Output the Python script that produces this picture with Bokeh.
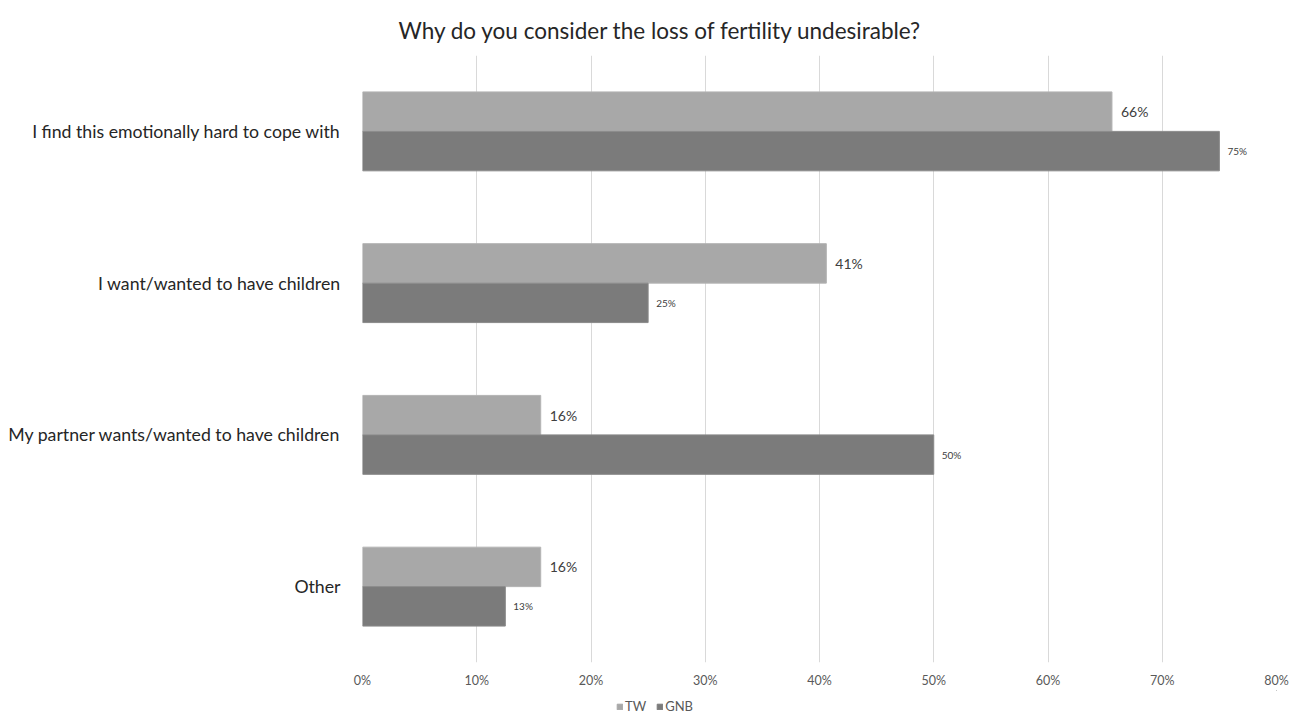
from bokeh.plotting import figure
from bokeh.layouts import column
from bokeh.models import ColumnDataSource, FactorRange, Range1d, FixedTicker, Title, Legend, LegendItem
from bokeh.transform import dodge
from bokeh.core.properties import value
from bokeh.embed import file_html
from bokeh.resources import INLINE

categories = ["I find this emotionally hard to cope with",
              "I want/wanted to have children",
              "My partner wants/wanted to have children",
              "Other"]
tw_values = [65.6, 40.6, 15.6, 15.6]
gnb_values = [75.0, 25.0, 50.0, 12.5]
tw_labels = ["66%", "41%", "16%", "16%"]
gnb_labels = ["75%", "25%", "50%", "13%"]
series_names = ["TW", "GNB"]
x_ticks = [0, 10, 20, 30, 40, 50, 60, 70, 80]
x_tick_labels = ["0%", "10%", "20%", "30%", "40%", "50%", "60%", "70%", "80%"]
title_text = "Why do you consider the loss of fertility undesirable?"

FONT = "Lato"
TW_COLOR = "#a8a8a8"
GNB_COLOR = "#7b7b7b"

src = ColumnDataSource(dict(cat=categories, tw=tw_values, gnb=gnb_values,
                            tw_lbl=tw_labels, gnb_lbl=gnb_labels))

p = figure(width=1290, height=690, output_backend="svg", toolbar_location=None,
           y_range=FactorRange(factors=list(reversed(categories)), range_padding=0, factor_padding=0),
           x_range=Range1d(0, 80),
           min_border_left=362, min_border_right=14, min_border_top=55, min_border_bottom=28)
p.outline_line_color = None
p.background_fill_color = "white"
p.border_fill_color = "white"

p.hbar(y=dodge("cat", 0.13, range=p.y_range), right="tw", left=0, height=0.26,
       fill_color=TW_COLOR, line_color="#b4b4b4", line_width=1, source=src)
p.hbar(y=dodge("cat", -0.13, range=p.y_range), right="gnb", left=0, height=0.26,
       fill_color=GNB_COLOR, line_color="#8a8a8a", line_width=1, source=src)

p.text(x="tw", y=dodge("cat", 0.13, range=p.y_range), text="tw_lbl", source=src,
       x_offset=9, text_baseline="middle", text_align="left", text_font=value(FONT),
       text_font_size="14px", text_color="#404040")
p.text(x="gnb", y=dodge("cat", -0.13, range=p.y_range), text="gnb_lbl", source=src,
       x_offset=8, text_baseline="middle", text_align="left", text_font=value(FONT),
       text_font_size="10px", text_color="#404040")

p.xaxis.ticker = FixedTicker(ticks=x_ticks)
p.xaxis.major_label_overrides = {t: l for t, l in zip(x_ticks, x_tick_labels)}
p.xaxis.axis_line_color = None
p.xaxis.major_tick_line_color = None
p.xaxis.minor_tick_line_color = None
p.xaxis.major_label_text_font = FONT
p.xaxis.major_label_text_font_size = "12.5px"
p.xaxis.major_label_text_color = "#595959"
p.xaxis.major_label_standoff = 4

p.yaxis.axis_line_color = None
p.yaxis.major_tick_line_color = None
p.yaxis.minor_tick_line_color = None
p.yaxis.major_label_text_font = FONT
p.yaxis.major_label_text_font_size = "17.7px"
p.yaxis.major_label_text_color = "#262626"
p.yaxis.major_label_standoff = 16

p.ygrid.grid_line_color = None
p.xgrid.grid_line_color = "#d9d9d9"
p.xgrid.grid_line_width = 1

p.add_layout(Title(text=title_text, align="left", offset=36, standoff=24,
                   text_font=FONT, text_font_size="22.5px", text_font_style="normal",
                   text_color="#262626"), "above")

# legend strip below the chart (frame aligned with the main chart's frame)
lg = figure(width=1290, height=24, output_backend="svg", toolbar_location=None,
            x_axis_type=None, y_axis_type=None, x_range=Range1d(0, 1), y_range=Range1d(0, 1),
            min_border=0, min_border_left=0, min_border_right=0, min_border_top=0, min_border_bottom=0)
lg.outline_line_color = None
lg.xgrid.visible = False
lg.ygrid.visible = False
proxy = ColumnDataSource(dict(y=[50.0], left=[50.0], right=[60.0]))
r_tw = lg.hbar(y="y", right="right", left="left", height=0.5, color=TW_COLOR, source=proxy)
r_gnb = lg.hbar(y="y", right="right", left="left", height=0.5, color=GNB_COLOR, source=proxy)
legend = Legend(items=[LegendItem(label=series_names[0], renderers=[r_tw]),
                       LegendItem(label=series_names[1], renderers=[r_gnb])],
                orientation="horizontal", location=(254, 0),
                label_text_font=FONT, label_text_font_size="13px", label_text_color="#595959",
                label_height=12, glyph_width=7, glyph_height=7, padding=0, spacing=10,
                label_standoff=2, border_line_color=None, background_fill_alpha=0, margin=0)
lg.add_layout(legend, "center")

layout = column(p, lg, spacing=0)
open("out.html", "w").write(file_html(layout, INLINE))
